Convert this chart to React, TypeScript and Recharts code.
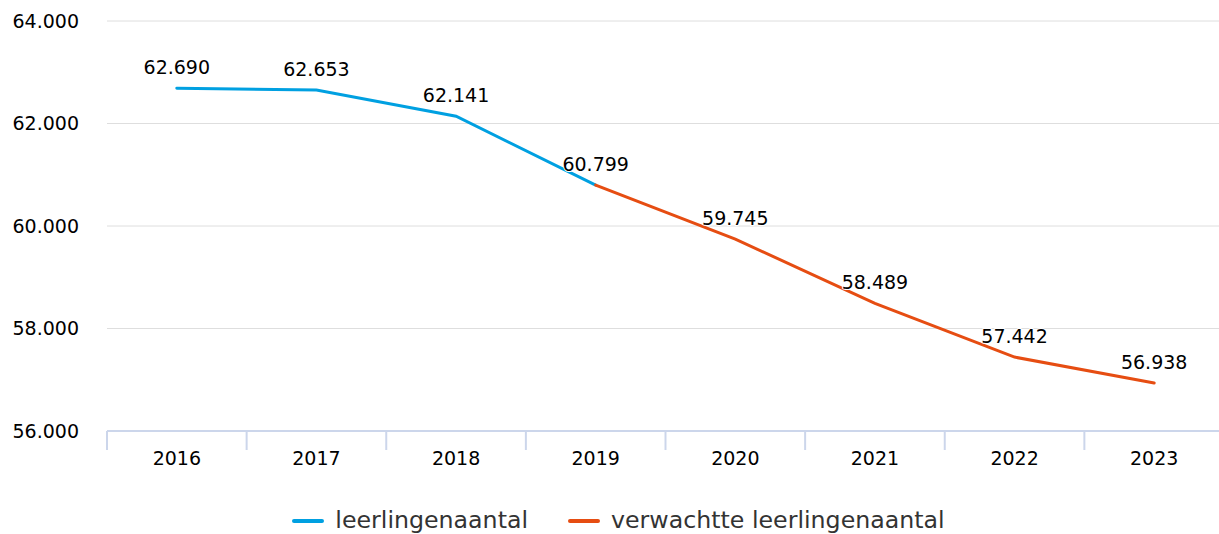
import {
    CartesianGrid,
    LabelList,
    Legend,
    Line,
    LineChart,
    XAxis,
    YAxis,
} from "recharts";

const years = ["2016", "2017", "2018", "2019", "2020", "2021", "2022", "2023"];
const actual = [62690, 62653, 62141, 60799, null, null, null, null];
const forecast = [null, null, null, 60799, 59745, 58489, 57442, 56938];
const yTicks = [56000, 58000, 60000, 62000, 64000];

const seriesNames = {
    actual: "leerlingenaantal",
    forecast: "verwachtte leerlingenaantal",
};

const BLUE = "#00a0e1";
const ORANGE = "#e64d12";
const AXIS = "#ccd6eb";

// the plot runs a few px past the right edge of the visible frame
const VIEW_W = 1219;
const CHART_W = 1224;
const CHART_H = 534;
const Y_AXIS_W = 107;
// width of one category slot on the x axis
const BAND = (CHART_W - Y_AXIS_W) / years.length;

const data = years.map((year, i) => ({
    year,
    actual: actual[i],
    forecast: forecast[i],
}));

const fmt = (v: number) =>
    String(Math.round(v)).replace(/\B(?=(\d{3})+(?!\d))/g, ".");

const labelStyle = {
    fontSize: 19,
    fill: "#000",
    stroke: "#fff",
    strokeWidth: 2,
    strokeLinejoin: "round" as const,
    paintOrder: "stroke",
};

// category label in the middle, tick mark on the slot boundary (Highcharts style)
function YearTick({ x, y, payload, index, visibleTicksCount }: any) {
    const half = BAND / 2;
    const last = index === visibleTicksCount - 1;
    return (
        <g>
            <line x1={x - half} x2={x - half} y1={y} y2={y + 19} stroke={AXIS} strokeWidth={2} />
            {last && (
                <line x1={x + half} x2={x + half} y1={y} y2={y + 19} stroke={AXIS} strokeWidth={2} />
            )}
            <text x={x} y={y + 21} dy="0.71em" textAnchor="middle" fontSize={19} fill="#000">
                {payload.value}
            </text>
        </g>
    );
}

function LegendContent() {
    const items = [
        { name: seriesNames.actual, color: BLUE },
        { name: seriesNames.forecast, color: ORANGE },
    ];
    return (
        <div
            style={{
                display: "flex",
                justifyContent: "center",
                gap: 40,
                paddingTop: 13,
                paddingLeft: 13,
            }}>
            {items.map((item) => (
                <div
                    key={item.name}
                    style={{ display: "flex", alignItems: "center", gap: 11 }}>
                    <span
                        style={{
                            width: 32,
                            height: 4,
                            borderRadius: 2,
                            background: item.color,
                            display: "inline-block",
                        }}
                    />
                    <span style={{ fontSize: 23.7, color: "#333", lineHeight: "27px" }}>
                        {item.name}
                    </span>
                </div>
            ))}
        </div>
    );
}

export default function App() {
    return (
        <div
            style={{
                position: "absolute",
                left: 0,
                top: 0,
                width: VIEW_W,
                height: CHART_H,
                overflow: "hidden",
                background: "#fff",
                fontFamily: "'DejaVu Sans', Verdana, sans-serif",
            }}>
            <LineChart
                width={CHART_W}
                height={CHART_H}
                data={data}
                margin={{ top: 21, right: 0, bottom: 0, left: 0 }}>
                <CartesianGrid
                    vertical={false}
                    stroke="#dedede"
                    strokeWidth={1}
                />
                <XAxis
                    dataKey="year"
                    height={63}
                    axisLine={{ stroke: AXIS, strokeWidth: 2 }}
                    tickLine={false}
                    tickSize={0}
                    tickMargin={0}
                    padding={{ left: BAND / 2, right: BAND / 2 }}
                    tick={<YearTick />}
                    interval={0}
                />
                <YAxis
                    width={Y_AXIS_W}
                    domain={[56000, 64000]}
                    ticks={yTicks}
                    axisLine={false}
                    tickLine={false}
                    tickSize={0}
                    tickMargin={28}
                    tickFormatter={fmt}
                    tick={{ fontSize: 19, fill: "#000" }}
                />
                <Legend verticalAlign="bottom" height={40} content={<LegendContent />} />
                <Line
                    type="linear"
                    dataKey="actual"
                    name={seriesNames.actual}
                    stroke={BLUE}
                    strokeWidth={3}
                    strokeLinecap="round"
                    dot={false}
                    activeDot={false}
                    isAnimationActive={false}
                    connectNulls={false}>
                    <LabelList
                        dataKey="actual"
                        position="top"
                        offset={14}
                        formatter={(v: any) => (v == null ? "" : fmt(v))}
                        style={labelStyle}
                    />
                </Line>
                <Line
                    type="linear"
                    dataKey="forecast"
                    name={seriesNames.forecast}
                    stroke={ORANGE}
                    strokeWidth={3}
                    strokeLinecap="round"
                    dot={false}
                    activeDot={false}
                    isAnimationActive={false}
                    connectNulls={false}>
                    <LabelList
                        position="top"
                        offset={14}
                        valueAccessor={(entry: any, i: number) =>
                            actual[i] != null ? undefined : entry.value
                        }
                        formatter={(v: any) => (v == null ? "" : fmt(v))}
                        style={labelStyle}
                    />
                </Line>
            </LineChart>
        </div>
    );
}
